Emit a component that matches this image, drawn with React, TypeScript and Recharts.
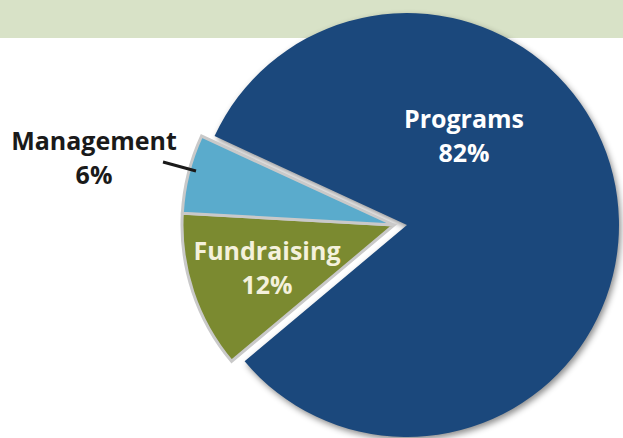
import { PieChart, Pie, Cell } from "recharts";

const categories = ["Fundraising", "Management", "Programs"];
const shares = [12, 6, 82];
const data = categories.map((name, i) => ({ name, value: shares[i] }));

const COLORS: Record<string, string> = {
  Programs: "#1b487c",
  Management: "#5aabcc",
  Fundraising: "#7b8a30",
};

// label placement relative to the pie centre (style only)
const LABEL_POS: Record<string, { dx: number; dy: number; fill: string }> = {
  Programs: { dx: 57, dy: -97, fill: "#ffffff" },
  Fundraising: { dx: -127, dy: 35, fill: "#f4f1dc" },
  Management: { dx: -300, dy: -75, fill: "#1a1a1a" },
};

const FONT = "'Open Sans', Lato, sans-serif";

const makeLabel = (show: string[]) => (props: any) => {
  const { cx, cy, name, value } = props;
  if (!show.includes(name)) return null;
  const p = LABEL_POS[name];
  const x = cx + p.dx;
  const y = cy + p.dy;
  return (
    <g>
      {name === "Management" && (
        <line
          x1={cx - 231}
          y1={cy - 63}
          x2={cx - 198}
          y2={cy - 54}
          stroke="#1a1a1a"
          strokeWidth={3}
        />
      )}
      <text
        x={x}
        y={y}
        textAnchor="middle"
        fill={p.fill}
        fontFamily={FONT}
        fontWeight={700}
        fontSize={25}
      >
        {name}
      </text>
      <text
        x={x}
        y={y + 34}
        textAnchor="middle"
        fill={p.fill}
        fontFamily={FONT}
        fontWeight={700}
        fontSize={25}
      >
        {value}%
      </text>
    </g>
  );
};

export default function App() {
  return (
    <div
      style={{
        position: "absolute",
        left: 0,
        top: 0,
        width: 623,
        height: 438,
        background: "#ffffff",
        overflow: "hidden",
      }}
    >
      <div
        style={{
          position: "absolute",
          left: 0,
          top: 0,
          width: 623,
          height: 38,
          background: "#d8e2c7",
        }}
      />
      <div style={{ position: "absolute", left: 0, top: 0 }}>
        <PieChart width={623} height={438} margin={{ top: 0, right: 0, bottom: 0, left: 0 }}>
          {/* main slice */}
          <Pie
            data={data}
            dataKey="value"
            nameKey="name"
            cx={407}
            cy={225}
            outerRadius={212}
            startAngle={220}
            endAngle={-140}
            isAnimationActive={false}
            labelLine={false}
            label={makeLabel(["Programs"])}
          >
            {data.map((d) => (
              <Cell
                key={d.name}
                fill={d.name === "Programs" ? COLORS.Programs : "none"}
                stroke="none"
                style={
                  d.name === "Programs"
                    ? { filter: "drop-shadow(2px 3px 3px rgba(0,0,0,0.45))" }
                    : undefined
                }
              />
            ))}
          </Pie>
          {/* pulled-out small slices */}
          <Pie
            data={data}
            dataKey="value"
            nameKey="name"
            cx={394}
            cy={225}
            outerRadius={212}
            startAngle={220}
            endAngle={-140}
            isAnimationActive={false}
            labelLine={false}
            label={makeLabel(["Fundraising", "Management"])}
          >
            {data.map((d) => (
              <Cell
                key={d.name}
                fill={d.name === "Programs" ? "none" : COLORS[d.name]}
                stroke={d.name === "Programs" ? "none" : "#c9c9c9"}
                strokeWidth={3}
              />
            ))}
          </Pie>
        </PieChart>
      </div>
    </div>
  );
}
